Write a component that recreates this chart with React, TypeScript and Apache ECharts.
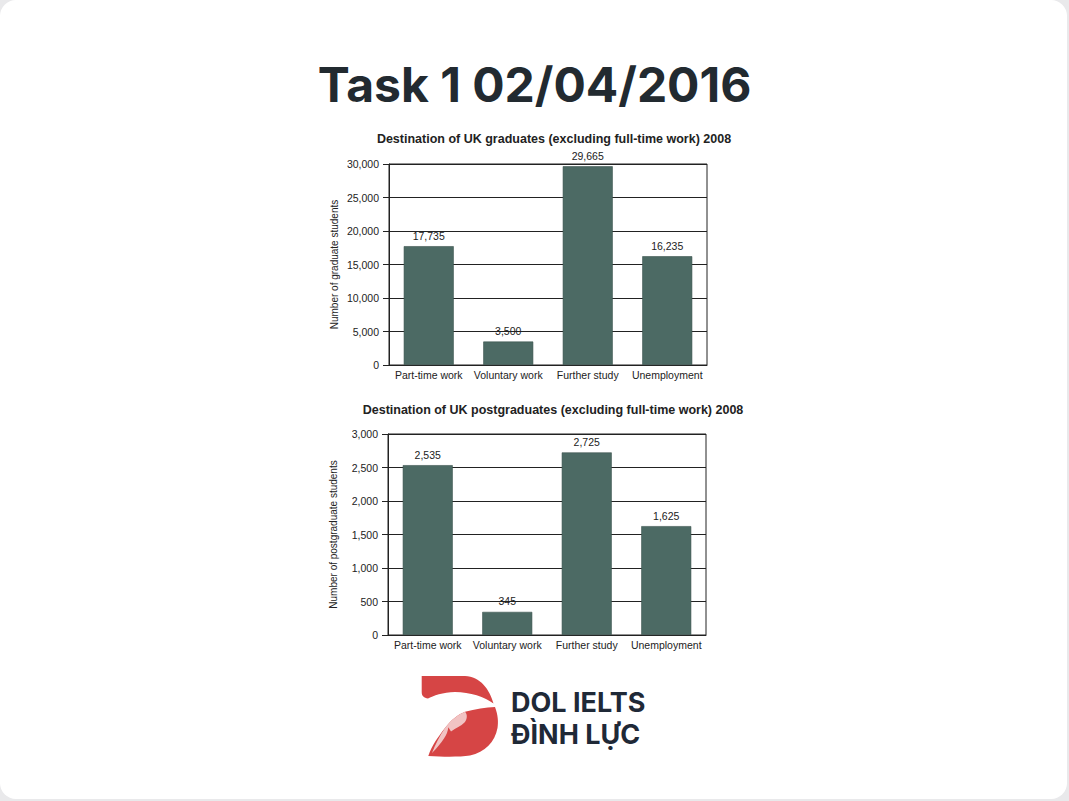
import React, { useEffect, useRef } from "react";
import * as echarts from "echarts";

const categories = ["Part-time work", "Voluntary work", "Further study", "Unemployment"];
const graduates = [17735, 3500, 29665, 16235];
const postgraduates = [2535, 345, 2725, 1625];
const gradTicks = { min: 0, max: 30000, interval: 5000 };
const postTicks = { min: 0, max: 3000, interval: 500 };

const titleMain = "Task 1 02/04/2016";
const title1 = "Destination of UK graduates (excluding full-time work) 2008";
const title2 = "Destination of UK postgraduates (excluding full-time work) 2008";
const yName1 = "Number of graduate students";
const yName2 = "Number of postgraduate students";

const ribbonD =
  "M421.7,676 L465,676 C480,676 490,690 493.5,703.5 C485,697 470,692 455,692 C443,692 433,696 428,698.5 C424,698 421.7,696 421.7,692 Z";
const lowerD =
  "M495,707 C498,715 498.5,722 497.5,728 C495,742 485,752 470,755.5 C460,757 445,757 428.3,756 C432,745 438,737 445,728 C451,720 458,714.5 465,711.7 C475,709 486,707.5 495,707 Z";
const wingD =
  "M465,711.7 C467.5,714 467.5,719 464.5,722.5 C461,726 456,728 451,731.5 L448.3,727.3 C448,731 446.5,735 444,738.5 C441,743 437,748 432,753 C435,745 439,737 445,728 C451,720 458,714.5 465,711.7 Z";

echarts.graphic.registerShape("logoRibbon", echarts.graphic.extendPath(ribbonD, {}));
echarts.graphic.registerShape("logoLower", echarts.graphic.extendPath(lowerD, {}));
echarts.graphic.registerShape("logoWing", echarts.graphic.extendPath(wingD, {}));

const fmt = (v: number) => v.toLocaleString("en-US");
const textColor = "#222222";
const barColor = "#4c6a64";
const font = "Liberation Sans";

function yAxis(gridIndex: number, t: { min: number; max: number; interval: number }, name: string) {
  return {
    type: "value",
    gridIndex,
    min: t.min,
    max: t.max,
    interval: t.interval,
    name,
    nameLocation: "middle",
    nameGap: 50,
    nameTextStyle: { color: textColor, fontSize: 10, fontFamily: font },
    axisLine: { show: true, lineStyle: { color: "#222", width: 1 } },
    axisTick: { show: true, length: 6, lineStyle: { color: "#222" } },
    splitLine: { show: true, lineStyle: { color: "#222", width: 1 } },
    axisLabel: {
      color: textColor,
      fontSize: 10.5,
      fontFamily: font,
      margin: 10,
      formatter: (v: number) => fmt(v),
    },
  };
}

function xAxis(gridIndex: number) {
  return {
    type: "category",
    gridIndex,
    data: categories,
    axisLine: { show: true, lineStyle: { color: "#222", width: 1 } },
    axisTick: { show: false },
    axisLabel: { color: textColor, fontSize: 10.5, fontFamily: font, margin: 4, interval: 0 },
  };
}

function barSeries(idx: number, data: number[]) {
  return {
    type: "bar",
    xAxisIndex: idx,
    yAxisIndex: idx,
    data,
    barWidth: 50,
    itemStyle: { color: barColor, borderColor: "#3a524d", borderWidth: 0.6 },
    label: {
      show: true,
      position: "top",
      distance: 5,
      color: textColor,
      fontSize: 10.5,
      fontFamily: font,
      formatter: (p: any) => fmt(p.value),
    },
  };
}

export default function App() {
  const ref = useRef<HTMLDivElement>(null);
  useEffect(() => {
    if (!ref.current) return;
    const chart = echarts.init(ref.current, undefined, { renderer: "svg" });
    chart.setOption({
      animation: false,
      backgroundColor: "transparent",
      title: [
        {
          text: titleMain,
          left: "center",
          top: 55,
          textStyle: { color: "#222a30", fontSize: 48, fontWeight: 700, fontFamily: "Inter" },
        },
        {
          text: title1,
          left: 549,
          textAlign: "center",
          top: 127,
          textStyle: { color: textColor, fontSize: 12.5, fontWeight: 700, fontFamily: font },
        },
        {
          text: title2,
          left: 548,
          textAlign: "center",
          top: 398,
          textStyle: { color: textColor, fontSize: 12.5, fontWeight: 700, fontFamily: font },
        },
      ],
      grid: [
        { left: 389, top: 164, width: 318, height: 201, show: true, borderColor: "#222", borderWidth: 1, backgroundColor: "transparent" },
        { left: 388, top: 434, width: 318, height: 201, show: true, borderColor: "#222", borderWidth: 1, backgroundColor: "transparent" },
      ],
      xAxis: [xAxis(0), xAxis(1)],
      yAxis: [yAxis(0, gradTicks, yName1), yAxis(1, postTicks, yName2)],
      series: [barSeries(0, graduates), barSeries(1, postgraduates)],
      graphic: [
        { type: "logoRibbon", x: 0, y: 0, style: { fill: "#d64545" } },
        { type: "logoLower", x: 0, y: 0, style: { fill: "#d64545" } },
        { type: "logoWing", x: 0, y: 0, style: { fill: "#f1c3c3" } },
        {
          type: "text",
          left: 511,
          top: 689,
          style: { text: "DOL IELTS", fill: "#1f2937", font: "700 27px Inter" },
        },
        {
          type: "text",
          left: 511,
          top: 721,
          style: { text: "ĐÌNH LỰC", fill: "#1f2937", font: "700 27px Inter" },
        },
      ],
    });
    return () => chart.dispose();
  }, []);

  return (
    <div style={{ position: "fixed", left: 0, top: 0, width: 1069, height: 801, background: "#e9e9eb" }}>
      <div style={{ position: "absolute", left: 0, top: 0, width: 1067, height: 799, background: "#ffffff", borderRadius: 16 }} />
      <div ref={ref} style={{ position: "absolute", left: 0, top: 0, width: 1069, height: 801 }} />
    </div>
  );
}
